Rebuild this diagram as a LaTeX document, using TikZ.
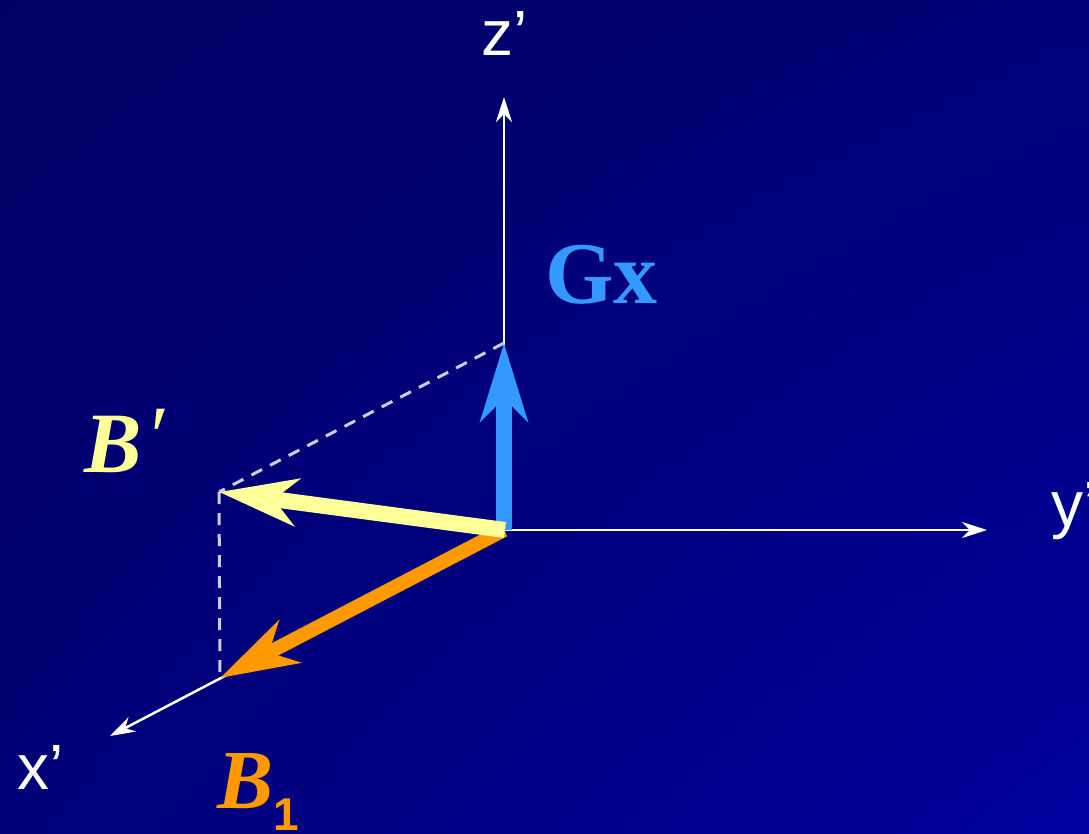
\documentclass[tikz,border=0pt]{standalone}
\usepackage{fontspec}
\usepackage{graphicx}
\setmainfont{Liberation Serif}
\newfontfamily\axfont{Liberation Sans}
\usetikzlibrary{arrows.meta,shadings}
\definecolor{bgtl}{HTML}{000064}
\definecolor{bgtr}{HTML}{000078}
\definecolor{bgbl}{HTML}{000078}
\definecolor{bgbr}{HTML}{00009E}
\definecolor{vecyellow}{HTML}{FFFF99}
\definecolor{vecorange}{HTML}{FF9900}
\definecolor{vecblue}{HTML}{3399FF}
\definecolor{dashgray}{HTML}{CCCCE0}
\begin{document}
\begin{tikzpicture}[x=1pt,y=-1pt,
  axisline/.style={draw=white, line width=2.5pt, -{Stealth[length=25pt,width=16pt,inset=8pt]}},
  vecarrow/.style={line cap=butt, -{Stealth[length=78pt,width=47pt,inset=23pt]}},
  projline/.style={draw=dashgray, line width=3pt, dash pattern=on 12pt off 9pt},
  axlbl/.style={inner sep=0pt, anchor=base west, text=white, font=\axfont\fontsize{64}{64}\selectfont},
  veclbl/.style={inner sep=0pt, anchor=base west},
]
\shade[upper left=bgtl, upper right=bgtr, lower left=bgbl, lower right=bgbr] (0,0) rectangle (1089,833);
\useasboundingbox (0,0) rectangle (1089,833);

\coordinate (O) at (504,530);
\coordinate (zt) at (504,97);
\coordinate (yt) at (987,530);
\coordinate (xt) at (110,736);
\coordinate (Gt) at (504,343);
\coordinate (Bp) at (219,492);
\coordinate (B1t) at (220,678);

% axes
\draw[axisline] (O) -- (zt);
\draw[axisline] (O) -- (yt);
\draw[axisline] (O) -- (xt);

% projections
\draw[projline] (Gt) -- (Bp);
\draw[projline] (Bp) -- (B1t);

% vectors
\draw[vecarrow, draw=vecblue, fill=vecblue, line width=16pt] (O) -- (Gt);
\draw[vecarrow, draw=vecorange, fill=vecorange, line width=14pt] (O) -- (B1t);
\draw[vecarrow, draw=vecyellow, fill=vecyellow, line width=16pt] ([xshift=1pt]O) -- (Bp);

% labels
\node[axlbl] (zl) at (481,55) {z’};
\node[axlbl] (yl) at (1051,526) {y’};
\node[axlbl] (xl) at (17,789) {x’};
\node[veclbl, text=vecblue, font=\bfseries\fontsize{88}{88}\selectfont] (Gl) at (545,303) {Gx};
\node[veclbl, text=vecyellow, font=\bfseries\itshape\fontsize{86}{86}\selectfont] (Bpl) at (84,472) {B\kern4pt\raisebox{7pt}{\mdseries\fontsize{86}{86}\selectfont ′}};
\node[veclbl, text=vecorange, font=\bfseries\itshape\fontsize{84}{84}\selectfont] (B1l) at (217,808) {B\raisebox{-22pt}{\axfont\upshape\bfseries\fontsize{46}{46}\selectfont 1}};
\end{tikzpicture}
\end{document}
